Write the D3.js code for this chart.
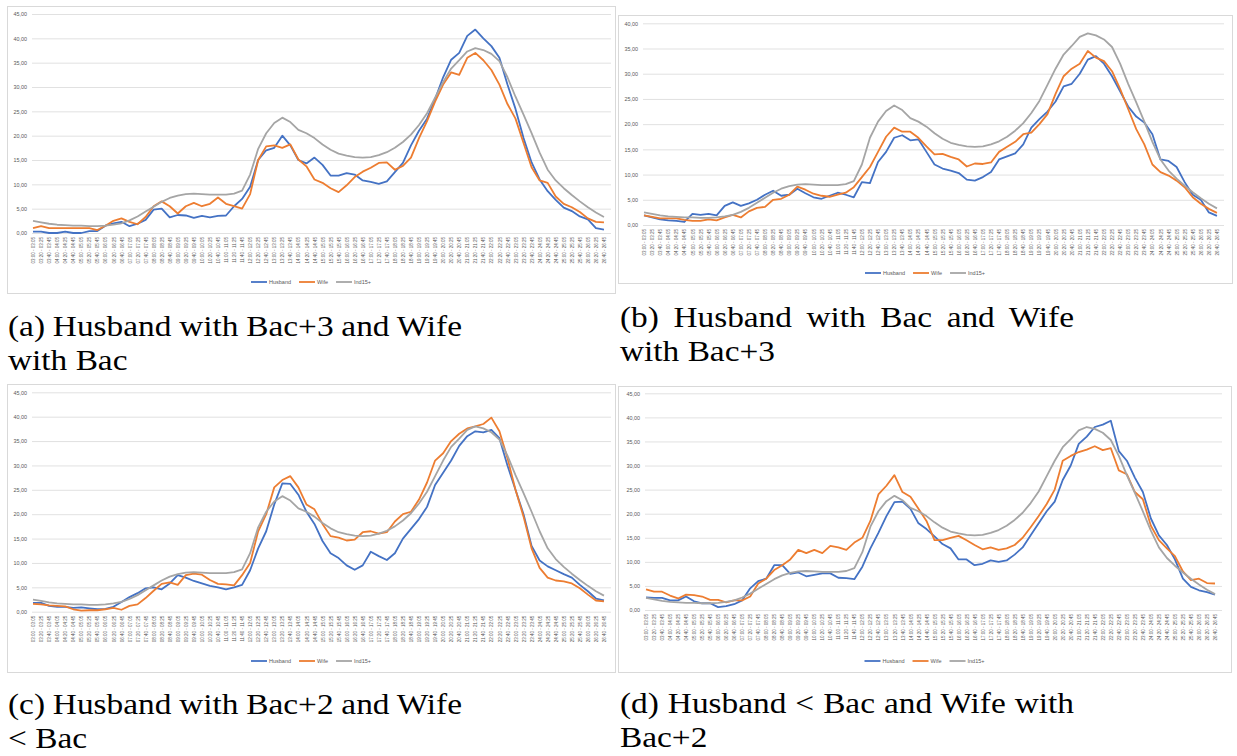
<!DOCTYPE html>
<html>
<head>
<meta charset="utf-8">
<script src="https://cdn.jsdelivr.net/npm/d3@7"></script>
<style>
  body { margin: 0; background: #fff; }
  svg { display: block; }
</style>
</head>
<body>
<svg id="chart" width="1237" height="756"></svg>
<script>
// 5-minute slots, one label every 20 minutes (every 4th slot)
const tickLabels = [
  "03:00 - 03:05","03:20 - 03:25","03:40 - 03:45","04:00 - 04:05","04:20 - 04:25","04:40 - 04:45",
  "05:00 - 05:05","05:20 - 05:25","05:40 - 05:45","06:00 - 06:05","06:20 - 06:25","06:40 - 06:45",
  "07:00 - 07:05","07:20 - 07:25","07:40 - 07:45","08:00 - 08:05","08:20 - 08:25","08:40 - 08:45",
  "09:00 - 09:05","09:20 - 09:25","09:40 - 09:45","10:00 - 10:05","10:20 - 10:25","10:40 - 10:45",
  "11:00 - 11:05","11:20 - 11:25","11:40 - 11:45","12:00 - 12:05","12:20 - 12:25","12:40 - 12:45",
  "13:00 - 13:05","13:20 - 13:25","13:40 - 13:45","14:00 - 14:05","14:20 - 14:25","14:40 - 14:45",
  "15:00 - 15:05","15:20 - 15:25","15:40 - 15:45","16:00 - 16:05","16:20 - 16:25","16:40 - 16:45",
  "17:00 - 17:05","17:20 - 17:25","17:40 - 17:45","18:00 - 18:05","18:20 - 18:25","18:40 - 18:45",
  "19:00 - 19:05","19:20 - 19:25","19:40 - 19:45","20:00 - 20:05","20:20 - 20:25","20:40 - 20:45",
  "21:00 - 21:05","21:20 - 21:25","21:40 - 21:45","22:00 - 22:05","22:20 - 22:25","22:40 - 22:45",
  "23:00 - 23:05","23:20 - 23:25","23:40 - 23:45","24:00 - 24:05","24:20 - 24:25","24:40 - 24:45",
  "25:00 - 25:05","25:20 - 25:25","25:40 - 25:45","26:00 - 26:05","26:20 - 26:25","26:40 - 26:45"
];
const slotsPerTick = 4;

const seriesNames = ["Husband", "Wife", "Ind15+"];
const seriesColors = ["#4472C4", "#ED7D31", "#A5A5A5"];

// Ind15+ is the same reference curve in every panel
const ind15 = [
  2.5, 2.2, 1.9, 1.7, 1.6, 1.5, 1.5, 1.4, 1.4, 1.5, 1.7, 2.0,
  2.6, 3.4, 4.4, 5.4, 6.4, 7.2, 7.7, 8.0, 8.1, 8.0, 7.9, 7.9,
  7.9, 8.1, 8.7, 12.0, 17.3, 20.5, 22.6, 23.7, 22.8, 21.2, 20.5, 19.5,
  18.2, 17.1, 16.3, 15.9, 15.6, 15.5, 15.6, 16.0, 16.6, 17.5, 18.7, 20.2,
  22.2, 24.6, 27.8, 31.0, 33.8, 35.5, 37.3, 38.0, 37.6, 36.8, 35.3, 32.0,
  28.0, 24.3, 20.5, 16.5, 13.0, 10.8, 9.2, 7.8, 6.5, 5.3, 4.2, 3.3
];

const husbandA = [
  0.3, 0.3, 0.0, 0.0, 0.3, 0.0, 0.0, 0.4, 0.4, 1.5, 2.0, 2.3,
  1.4, 1.9, 2.7, 4.8, 5.0, 3.2, 3.7, 3.6, 3.1, 3.5, 3.2, 3.5,
  3.6, 5.5, 7.0, 9.5, 15.0, 17.0, 17.5, 20.0, 18.0, 15.0, 14.3, 15.5,
  14.0, 11.8, 11.8, 12.3, 12.0, 10.8, 10.5, 10.1, 10.6, 12.5, 14.4, 18.0,
  21.0, 23.5, 27.5, 32.0, 35.6, 37.0, 40.5, 41.8, 40.0, 38.4, 36.0, 30.5,
  25.5, 19.5, 14.5, 11.0, 8.6, 6.8, 5.2, 4.5, 3.4, 2.8, 1.0, 0.7
];
const wifeA = [
  1.0, 1.4, 1.0, 1.0, 1.0, 1.0, 1.0, 1.0, 0.6, 1.5, 2.5, 3.0,
  2.3, 1.8, 3.3, 5.5, 6.5, 5.5, 4.0, 5.5, 6.2, 5.5, 6.0, 7.3,
  6.0, 5.5, 5.0, 8.0, 15.0, 17.8, 18.0, 17.5, 18.2, 15.1, 13.7, 11.0,
  10.3, 9.2, 8.4, 9.8, 11.5, 12.6, 13.4, 14.4, 14.5, 13.0, 13.8, 15.5,
  19.5, 23.0, 27.0, 30.5, 33.0, 32.5, 36.0, 37.0, 35.5, 33.5, 30.5, 26.5,
  23.5, 18.5, 13.5, 10.8, 10.3, 7.5, 6.0, 5.3, 4.3, 3.0, 2.3, 2.2
];

const husbandB = [
  1.9, 1.5, 1.1, 0.9, 0.8, 0.6, 2.2, 2.0, 2.2, 1.9, 3.8, 4.5,
  3.8, 4.3, 5.0, 6.0, 6.8, 5.8, 6.0, 7.2, 6.3, 5.5, 5.2, 5.8,
  6.4, 6.0, 5.5, 8.5, 8.3, 12.5, 14.5, 17.3, 17.8, 16.8, 17.0, 14.5,
  12.0, 11.2, 10.8, 10.3, 9.0, 8.8, 9.5, 10.5, 13.0, 13.6, 14.2, 16.0,
  19.3, 21.0, 22.5, 24.5, 27.5, 28.0, 30.0, 32.8, 33.5, 32.0, 29.5, 26.5,
  23.5, 21.5, 20.3, 18.0, 13.0, 12.7, 11.5, 8.5, 6.0, 5.0, 2.5, 1.8
];
const wifeB = [
  1.9, 1.6, 1.3, 1.3, 1.3, 1.0, 0.8, 0.8, 1.1, 0.9, 1.5, 2.0,
  1.5, 2.7, 3.4, 3.6, 5.0, 5.2, 6.0, 7.6, 7.0, 6.2, 5.8, 5.6,
  6.0, 6.4, 7.5, 9.5, 11.5, 14.5, 17.5, 19.3, 18.5, 18.5, 17.3, 15.6,
  14.0, 14.1, 13.5, 13.0, 11.6, 12.2, 12.1, 12.4, 14.5, 15.5, 16.5, 18.0,
  18.3, 20.0, 22.0, 26.0, 29.5, 31.0, 32.0, 34.5, 33.2, 32.5, 30.5, 27.0,
  23.0, 19.0, 16.0, 12.0, 10.5, 9.8, 8.8, 7.5, 5.5, 4.2, 3.2, 2.4
];

const husbandC = [
  1.8, 1.8, 1.2, 1.0, 1.0, 0.8, 0.9, 0.7, 0.5, 0.6, 1.0, 2.0,
  3.0, 3.8, 4.8, 5.0, 4.6, 5.8, 7.5, 7.0, 6.3, 5.8, 5.3, 5.0,
  4.6, 5.0, 5.5, 8.5, 13.0, 16.5, 22.0, 26.3, 26.2, 24.0, 20.5, 18.0,
  14.5, 12.0, 11.0, 9.5, 8.6, 9.5, 12.3, 11.4, 10.6, 12.0, 15.0, 17.0,
  19.0, 21.5, 26.0, 28.5, 31.0, 34.0, 36.0, 37.0, 36.8, 37.3, 35.6, 30.0,
  25.0, 20.0, 13.5, 10.5, 9.3, 8.5, 7.7, 7.0, 5.5, 4.2, 2.7, 2.3
];
const wifeC = [
  1.6, 1.5, 1.3, 1.2, 1.1, 0.5, 0.2, 0.3, 0.3, 0.5, 0.8, 0.4,
  1.2, 1.5, 2.8, 4.3, 5.7, 6.0, 5.5, 7.5, 7.8, 7.6, 6.5, 5.7,
  5.6, 5.4, 7.5, 10.0, 16.5, 20.0, 25.5, 27.0, 27.8, 25.5, 22.0, 21.0,
  18.0, 15.5, 15.2, 14.6, 14.8, 16.3, 16.5, 16.0, 16.3, 18.5, 20.0, 20.5,
  23.0, 26.5, 31.0, 32.5, 35.0, 36.5, 37.6, 38.0, 38.5, 39.8, 37.0, 31.5,
  25.0, 19.5, 13.0, 9.0, 7.0, 6.4, 6.2, 5.8, 4.8, 3.5, 2.3, 2.1
];

const husbandD = [
  2.6, 2.5, 2.5, 2.0, 2.0, 2.8, 1.8, 1.4, 1.4, 0.6, 0.8, 1.2,
  2.0, 4.5, 6.0, 6.5, 9.3, 9.3, 7.5, 7.8, 7.0, 7.3, 7.6, 7.6,
  6.7, 6.6, 6.4, 9.0, 12.8, 16.0, 19.5, 22.4, 22.5, 21.0, 18.0, 16.8,
  15.3, 13.7, 12.8, 10.5, 10.5, 9.3, 9.6, 10.3, 10.0, 10.3, 11.5, 13.0,
  15.5, 18.0, 20.5, 22.5, 27.0, 30.0, 34.5, 36.0, 38.0, 38.5, 39.3, 33.0,
  31.0, 27.5, 24.5, 19.0, 15.5, 13.5, 10.5, 6.5, 4.8, 4.1, 3.7, 3.2
];
const wifeD = [
  4.3, 3.8, 3.8, 3.0, 2.4, 3.2, 3.1, 2.8, 2.1, 2.1, 1.6, 2.0,
  2.0, 2.8, 5.5, 6.5, 8.3, 9.3, 10.5, 12.5, 11.8, 12.5, 11.8, 13.3,
  13.0, 12.5, 14.0, 15.0, 18.5, 24.0, 25.8, 28.0, 24.5, 23.5, 21.0, 18.5,
  14.5, 14.5, 15.0, 15.4, 14.5, 13.5, 12.6, 13.0, 12.5, 12.8, 13.5, 15.0,
  17.2, 19.5, 22.0, 25.0, 31.0, 32.0, 32.8, 33.3, 34.0, 33.2, 33.6, 29.0,
  28.2, 24.5, 23.0, 17.5, 14.5, 12.8, 11.2, 8.0, 6.2, 6.5, 5.6, 5.5
];

const captionA = ["(a) Husband with Bac+3 and Wife", "with Bac"];
const captionB = ["(b) Husband with Bac and Wife", "with Bac+3"];
const captionC = ["(c) Husband with Bac+2 and Wife", "< Bac"];
const captionD = ["(d) Husband < Bac and Wife with", "Bac+2"];

// layout of the four Excel chart boxes
const panels = [
  { series: [husbandA, wifeA, ind15], yMax: 45, frame: [7, 6, 615, 293], plot: [32, 611], y0: 233, yTop: 14,
    legendY: 282, caption: captionA, capX: 8, capY: [336, 370] },
  { series: [husbandB, wifeB, ind15], yMax: 40, frame: [618, 15, 1232, 283], plot: [643, 1224], y0: 225, yTop: 23.3,
    legendY: 273, caption: captionB, capX: 620, capY: [327, 361] },
  { series: [husbandC, wifeC, ind15], yMax: 45, frame: [7, 384, 615, 672], plot: [32, 611], y0: 611.7, yTop: 392.3,
    legendY: 661, caption: captionC, capX: 8, capY: [714, 748] },
  { series: [husbandD, wifeD, ind15], yMax: 45, frame: [618, 386, 1231, 672], plot: [645, 1222], y0: 610, yTop: 393.3,
    legendY: 661, caption: captionD, capX: 620, capY: [713, 747] }
];

const svg = d3.select("#chart");
svg.append("rect").attr("width", 1237).attr("height", 756).attr("fill", "#fff");

const fmt = v => d3.format(".2f")(v).replace(".", ",");
const axisFont = "'Liberation Sans', Arial, sans-serif";
const captionWidth = 454;
const captionStretch = 1.15;

panels.forEach(p => {
    const g = svg.append("g");

    g.append("rect")
        .attr("x", p.frame[0] + 0.5)
        .attr("y", p.frame[1] + 0.5)
        .attr("width", p.frame[2] - p.frame[0])
        .attr("height", p.frame[3] - p.frame[1])
        .attr("fill", "#fff")
        .attr("stroke", "#d9d9d9")
        .attr("stroke-width", 1);

    const nSlots = tickLabels.length * slotsPerTick;
    const band = (p.plot[1] - p.plot[0]) / nSlots;
    const x = d3.scalePoint()
        .domain(tickLabels)
        .range([p.plot[0] + band / 2, p.plot[0] + band * ((tickLabels.length - 1) * slotsPerTick + 0.5)]);

    const y = d3.scaleLinear()
        .domain([0, p.yMax])
        .range([p.y0, p.yTop]);

    // gridlines + value labels
    const yAxis = g.append("g")
        .attr("transform", `translate(${p.plot[0]},0)`)
        .call(d3.axisLeft(y)
            .tickValues(d3.range(0, p.yMax + 1, 5))
            .tickSize(-(p.plot[1] - p.plot[0]))
            .tickPadding(5)
            .tickFormat(fmt));
    yAxis.select(".domain").remove();
    yAxis.selectAll("line").attr("stroke", "#d9d9d9").attr("stroke-width", 0.8);
    yAxis.selectAll("text")
        .attr("fill", "#595959")
        .style("font-family", axisFont)
        .style("font-size", "5.4px");

    // rotated time-slot labels
    const xAxis = g.append("g")
        .attr("transform", `translate(0,${p.y0})`)
        .call(d3.axisBottom(x).tickSize(0));
    xAxis.select(".domain").remove();
    xAxis.selectAll("text")
        .attr("transform", "rotate(-90)")
        .attr("text-anchor", "end")
        .attr("x", -4)
        .attr("y", 0)
        .attr("dy", "0.35em")
        .attr("fill", "#595959")
        .style("font-family", axisFont)
        .style("font-size", "4.5px");

    const line = d3.line()
        .x((d, i) => x(tickLabels[i]))
        .y(d => y(d));

    p.series.forEach((values, k) => {
        g.append("path")
            .datum(values)
            .attr("fill", "none")
            .attr("stroke", seriesColors[k])
            .attr("stroke-width", 1.8)
            .attr("stroke-linejoin", "round")
            .attr("d", line);
    });

    // legend centred under the plot
    const legend = g.append("g");
    let lx = 0;
    seriesNames.forEach((name, k) => {
        legend.append("line")
            .attr("x1", lx).attr("x2", lx + 16)
            .attr("y1", 0).attr("y2", 0)
            .attr("stroke", seriesColors[k])
            .attr("stroke-width", 1.8);
        const t = legend.append("text")
            .attr("x", lx + 18)
            .attr("y", 0)
            .attr("dy", "0.35em")
            .attr("fill", "#595959")
            .style("font-family", axisFont)
            .style("font-size", "5.5px")
            .text(name);
        lx += 18 + t.node().getComputedTextLength() + 8;
    });
    lx -= 8;
    const cx = (p.frame[0] + p.frame[2]) / 2;
    legend.attr("transform", `translate(${cx - lx / 2},${p.legendY})`);

    // subfigure caption, first line justified
    p.caption.forEach((str, li) => {
        const t = svg.append("text")
            .attr("transform", `translate(${p.capX},${p.capY[li]}) scale(${captionStretch},1)`)
            .attr("fill", "#000")
            .style("font-family", "'Liberation Serif', 'Times New Roman', serif")
            .style("font-size", "29px")
            .text(str);
        if (li === 0) {
            const w = t.node().getComputedTextLength();
            const gaps = str.split(" ").length - 1;
            const extra = captionWidth / captionStretch - w;
            t.style("word-spacing", (extra / gaps) + "px");
        }
    });
});
</script>
</body>
</html>
